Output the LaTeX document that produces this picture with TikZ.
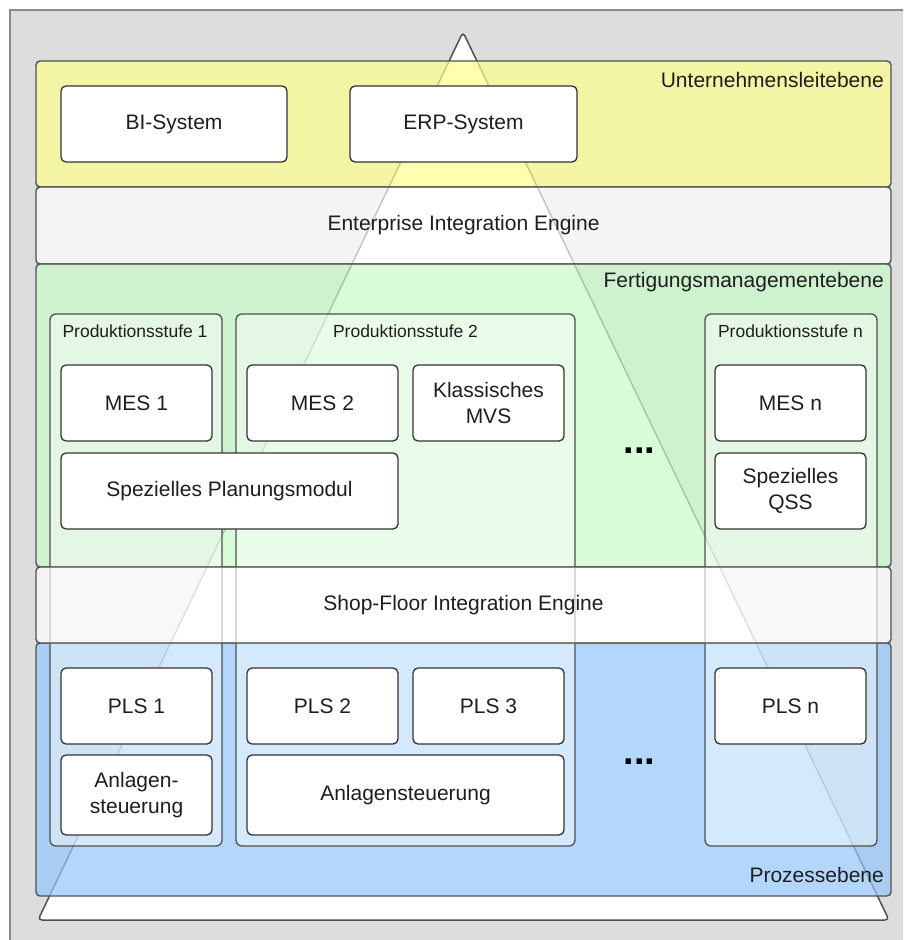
\documentclass[tikz,border=0pt]{standalone}
\usepackage{fontspec}
\setmainfont{Liberation Sans}

\definecolor{bggray}{HTML}{DDDDDD}
\definecolor{bgborder}{HTML}{8A8A8A}
\definecolor{edge}{HTML}{505050}
\definecolor{boxedge}{HTML}{333333}
\definecolor{txt}{HTML}{1E1E1E}
\definecolor{leitfill}{RGB}{255,255,142}
\definecolor{fertfill}{RGB}{200,250,200}
\definecolor{prozfill}{RGB}{148,199,251}

\newcommand\bigtext{\fontsize{21}{25.5}\selectfont}
\newcommand\smalltext{\fontsize{17.5}{21}\selectfont}

\tikzset{
  layer/.style={rectangle, draw=edge, line width=1.4pt, rounded corners=4pt,
    fill opacity=0.7, inner sep=0pt, outer sep=0pt, minimum width=855pt},
  stage/.style={rectangle, draw=edge, line width=1.3pt, rounded corners=6pt,
    fill=white, fill opacity=0.45, inner sep=0pt, outer sep=0pt,
    minimum width=172pt, minimum height=532pt},
  sysbox/.style={rectangle, draw=boxedge, line width=1.3pt, rounded corners=5pt,
    fill=white, inner sep=0pt, outer sep=0pt, align=center, text=txt,
    font=\bigtext, minimum width=151pt, minimum height=76pt},
  layerlabel/.style={inner sep=0pt, text=txt, font=\bigtext},
  stagelabel/.style={inner sep=0pt, text=txt, font=\smalltext},
  dots/.style={inner sep=0pt, anchor=base, text=black,
    font=\fontsize{38}{38}\selectfont\bfseries}
}

\begin{document}
\begin{tikzpicture}[x=1pt,y=-1pt]
  \useasboundingbox (0,0) rectangle (903,940);
  \clip (0,0) rectangle (903,940);

  % backdrop
  \draw[fill=bggray, draw=bgborder, line width=2pt] (10,10) rectangle (920,960);

  % pyramid behind the layers
  \draw[fill=white, draw=edge, line width=1.5pt, rounded corners=4pt]
    (463,32) -- (889,920) -- (38,920) -- cycle;

  % management and integration layers
  \node[layer, fill=leitfill, minimum height=126pt] (leit) at (463.5,124) {};
  \node[layer, fill=white, fill opacity=0.68, minimum height=77pt] (eie) at (463.5,225.5) {};
  \node[layer, fill=fertfill, minimum height=303pt] (fert) at (463.5,415.5) {};
  \node[layer, fill=prozfill, minimum height=253pt] (proz) at (463.5,769.5) {};

  % production stages
  \node[stage] (st1) at (136,580) {};
  \node[stage, minimum width=339pt] (st2) at (405.5,580) {};
  \node[stage] (stn) at (791,580) {};

  % shop floor integration layer lies over the stages
  \node[layer, fill=white, fill opacity=0.68, minimum height=76pt] (sfie) at (463.5,605) {};

  % layer captions
  \node[layerlabel, anchor=east] (leitlbl) at (884,80) {Unternehmensleitebene};
  \node[layerlabel] (eielbl) at (463.5,225.5) {Enterprise Integration Engine};
  \node[layerlabel, anchor=east] (fertlbl) at (884,282) {Fertigungsmanagementebene};
  \node[layerlabel] (sfielbl) at (463.5,605) {Shop-Floor Integration Engine};
  \node[layerlabel, anchor=east] (prozlbl) at (884,875) {Prozessebene};

  % stage captions
  \node[stagelabel] (st1lbl) at (135,331) {Produktionsstufe 1};
  \node[stagelabel] (st2lbl) at (405.5,331) {Produktionsstufe 2};
  \node[stagelabel] (stnlbl) at (790.5,331) {Produktionsstufe n};

  % enterprise systems
  \node[sysbox, minimum width=226pt] (bi) at (174,124) {BI-System};
  \node[sysbox, minimum width=227pt] (erp) at (463.5,124) {ERP-System};

  % manufacturing execution systems
  \node[sysbox] (mes1) at (136.5,403) {MES 1};
  \node[sysbox] (mes2) at (322.5,403) {MES 2};
  \node[sysbox] (mvs) at (488.5,403) {Klassisches\\MVS};
  \node[sysbox, minimum width=337pt] (plan) at (229.5,491) {Spezielles Planungsmodul};
  \node[sysbox] (mesn) at (790.5,403) {MES n};
  \node[sysbox] (qss) at (790.5,491) {Spezielles\\QSS};
  \node[dots] (dotsm) at (639.5,453) {...};

  % process control systems
  \node[sysbox] (pls1) at (136.5,706) {PLS 1};
  \node[sysbox] (pls2) at (322.5,706) {PLS 2};
  \node[sysbox] (pls3) at (488.5,706) {PLS 3};
  \node[sysbox] (plsn) at (790.5,706) {PLS n};
  \node[sysbox, minimum height=80pt] (anl1) at (136.5,795) {Anlagen-\\steuerung};
  \node[sysbox, minimum width=317pt, minimum height=80pt] (anl2) at (405.5,795) {Anlagensteuerung};
  \node[dots] (dotsp) at (639.5,764) {...};
\end{tikzpicture}
\end{document}
